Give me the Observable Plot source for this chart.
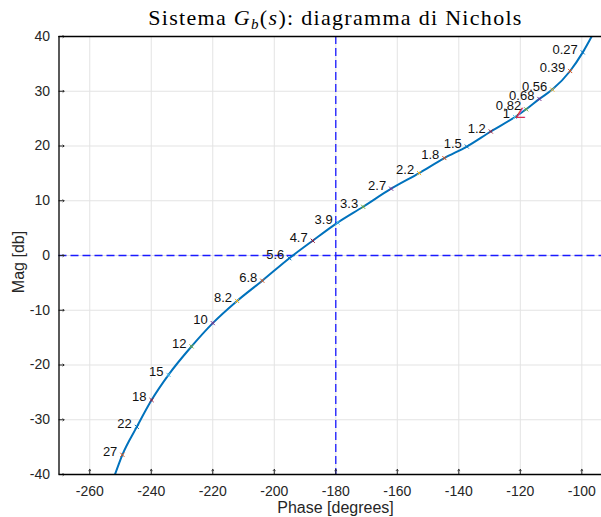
<!DOCTYPE html>
<html>
<head>
<meta charset="utf-8">
<script src="https://cdn.jsdelivr.net/npm/d3@7"></script>
<script src="https://cdn.jsdelivr.net/npm/@observablehq/plot@0.6"></script>
<style>
  html, body { margin: 0; padding: 0; background: #fff; overflow: hidden; }
  #wrap { position: relative; width: 601px; height: 517px; }
  #title { position: absolute; left: 0; top: 5px; width: 671px; text-align: center;
           font-family: "Liberation Serif", "DejaVu Serif", serif; font-size: 22px; color: #000; letter-spacing: 1.3px; }
  #title i { font-style: italic; }
  #title sub { font-size: 15px; vertical-align: -4px; line-height: 0; }
  #ylab { position: absolute; left: 19px; top: 262px; transform: translate(-50%, -50%) rotate(-90deg);
          font-family: "Liberation Sans", Arial, sans-serif; font-size: 16px; color: #262626; white-space: nowrap; }
  #xlab { position: absolute; left: 0; width: 671px; top: 499px; text-align: center;
          font-family: "Liberation Sans", Arial, sans-serif; font-size: 16px; color: #262626; }
</style>
</head>
<body>
<div id="wrap">
  <div id="chart"></div>
  <div id="title">Sistema <i>G</i><sub><i>b</i></sub>(<i>s</i>): diagramma di Nichols</div>
  <div id="ylab">Mag [db]</div>
  <div id="xlab">Phase [degrees]</div>
</div>
<script>
// Axis ticks and domains
const xTicks = [-260, -240, -220, -200, -180, -160, -140, -120, -100];
const yTicks = [-40, -30, -20, -10, 0, 10, 20, 30, 40];
const xDomain = [-270, -93.6];
const yDomain = [-40, 40];

// Frequency-labelled points (rad/s)
const freqLabels = ["27","22","18","15","12","10","8.2","6.8","5.6","4.7","3.9","3.3","2.7","2.2","1.8","1.5","1.2","1","0.82","0.68","0.56","0.39","0.27"];
const freqPhase = [-249.4,-244.7,-239.9,-234.4,-226.9,-220.0,-212.1,-203.9,-195.1,-187.5,-179.4,-171.1,-162.0,-152.9,-144.7,-137.4,-129.6,-121.7,-118.1,-113.8,-109.6,-103.8,-99.7];
const freqMag   = [-36.4,-31.3,-26.4,-21.8,-16.6,-12.35,-8.3,-4.6,-0.5,2.7,6.0,8.9,12.2,15.05,17.8,19.9,22.65,25.3,26.7,28.6,30.3,33.7,37.1];

// Nichols curve points (including where it meets the frame)
const curvePhase = [-251.8,-249.4,-244.7,-239.9,-234.4,-226.9,-220.0,-212.1,-203.9,-195.1,-187.5,-179.4,-171.1,-162.0,-152.9,-144.7,-137.4,-129.6,-121.7,-118.1,-113.8,-109.6,-103.8,-99.7,-96.8];
const curveMag   = [-40.0,-36.4,-31.3,-26.4,-21.8,-16.6,-12.35,-8.3,-4.6,-0.5,2.7,6.0,8.9,12.2,15.05,17.8,19.9,22.65,25.3,26.7,28.6,30.3,33.7,37.1,40.0];

// MATLAB default colour order used for the markers
const colorOrder = ["#0072BD","#D95319","#EDB120","#7E2F8E","#77AC30","#4DBEEE","#A2142F"];

const points = freqLabels.map((t, i) => ({t, x: freqPhase[i], y: freqMag[i],
  c: colorOrder[(freqLabels.length - 1 - i) % colorOrder.length]}));
const curve = curvePhase.map((x, i) => ({x, y: curveMag[i]}));
const oneRad = points.filter(d => d.t === "1");

const chart = Plot.plot({
  width: 601,
  height: 517,
  marginLeft: 58.5,
  marginRight: 0,
  marginTop: 36,
  marginBottom: 43,
  style: {fontFamily: "'Liberation Sans', Arial, sans-serif", fontSize: "14px", color: "#262626", background: "#fff"},
  x: {domain: xDomain, ticks: xTicks},
  y: {domain: yDomain, ticks: yTicks},
  marks: [
    Plot.ruleX(xTicks, {stroke: "#e3e3e3", strokeWidth: 1}),
    Plot.ruleY(yTicks, {stroke: "#e3e3e3", strokeWidth: 1}),
    Plot.ruleX([-180], {stroke: "#1a1aff", strokeWidth: 1.3, strokeDasharray: "8,4"}),
    Plot.ruleY([0], {stroke: "#1a1aff", strokeWidth: 1.3, strokeDasharray: "8,4"}),
    Plot.vector(xTicks, {x: d => d, frameAnchor: "bottom", length: 5, rotate: 0, anchor: "start", stroke: "#262626", strokeWidth: 1}),
    Plot.vector(yTicks, {y: d => d, frameAnchor: "left", length: 5, rotate: 90, anchor: "start", stroke: "#262626", strokeWidth: 1}),
    Plot.line(curve, {x: "x", y: "y", curve: "monotone-x", stroke: "#0072BD", strokeWidth: 2, clip: true}),
    Plot.dot(points, {x: "x", y: "y", symbol: "times", r: 2, stroke: "c", strokeWidth: 1}),
    Plot.text(oneRad, {x: "x", y: "y", text: () => "∠", fill: "#D9304F", fontSize: 14, dx: 5, dy: -3}),
    Plot.text(points, {x: "x", y: "y", text: "t", textAnchor: "end", dx: -5, dy: -3, fill: "#111", fontSize: 13}),
    Plot.ruleY([yDomain[1]], {stroke: "#000", strokeWidth: 1.3}),
    Plot.ruleY([yDomain[0]], {stroke: "#000", strokeWidth: 1.3}),
    Plot.ruleX([xDomain[0]], {stroke: "#000", strokeWidth: 1.3}),
    Plot.axisX({ticks: xTicks, tickSize: 0, tickPadding: 12, label: null, fontSize: 14, tickFormat: d => String(d)}),
    Plot.axisY({ticks: yTicks, tickSize: 0, tickPadding: 9, label: null, fontSize: 14, tickFormat: d => String(d)})
  ]
});
document.getElementById("chart").appendChild(chart);
</script>
</body>
</html>
